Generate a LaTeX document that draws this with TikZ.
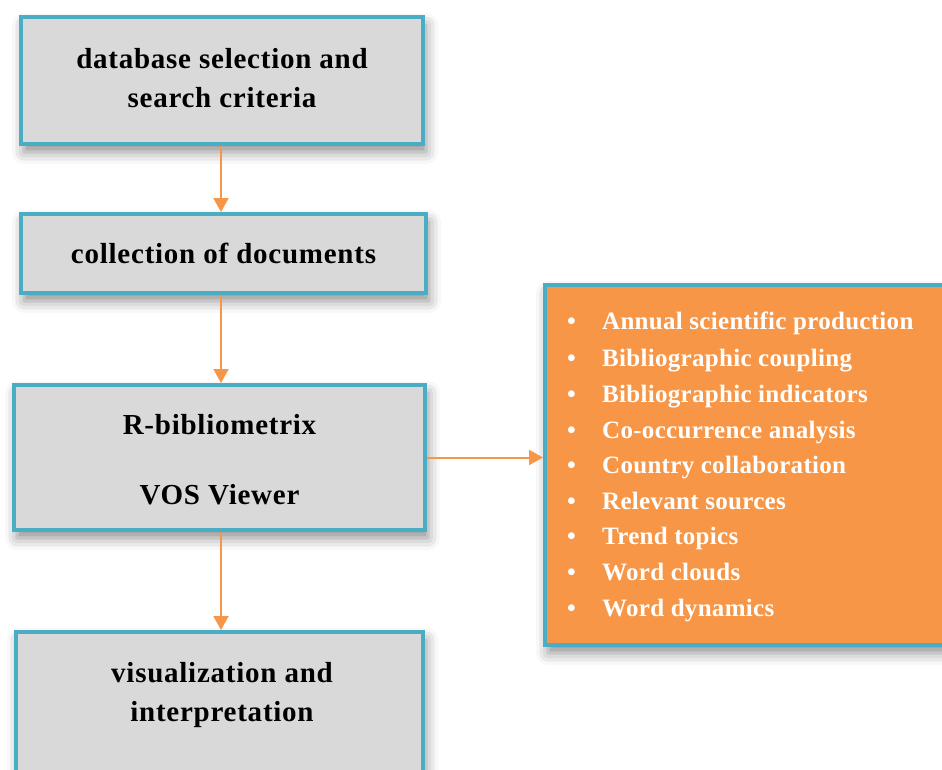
\documentclass[tikz,border=0pt]{standalone}
\usepackage{fontspec}
\setmainfont{Liberation Serif}
\newfontfamily\boxfont[LetterSpace=2.6]{Liberation Serif}
\newfontfamily\listfont[LetterSpace=1.2]{Liberation Serif}
\usetikzlibrary{arrows.meta,shadows.blur}
\definecolor{boxblue}{HTML}{4BACC6}
\definecolor{boxgray}{HTML}{D9D9D9}
\definecolor{accorange}{HTML}{F79646}
\begin{document}
\begin{tikzpicture}[x=1pt,y=-1pt,
  boxshadow/.style={blur shadow={shadow xshift=3pt, shadow yshift=-8pt, shadow blur radius=12pt, shadow opacity=45}},
  flowbox/.style={draw=boxblue, line width=4pt, fill=boxgray, rectangle, inner sep=0pt,
    font=\boxfont\bfseries\fontsize{29}{39}\selectfont, align=center, boxshadow},
  flowtext/.style={inner sep=0pt, font=\boxfont\bfseries\fontsize{29}{39}\selectfont, align=center},
  listbox/.style={draw=boxblue, line width=4pt, fill=accorange, rectangle, inner sep=0pt, boxshadow},
  listtext/.style={inner sep=0pt, text=white, font=\listfont\bfseries\fontsize{25}{35.6}\selectfont, align=left},
  flowarrow/.style={draw=accorange, line width=2pt, -{Triangle[width=15pt,length=14pt]}}]
\useasboundingbox (0,0) rectangle (942,769);
\clip (0,0) rectangle (942,769);
\node[flowbox, minimum width=402pt, minimum height=127pt] (b1) at (222,80.5) {};
\node[flowtext] (t1) at (222,78) {database selection and\\search criteria};
\node[flowbox, minimum width=405pt, minimum height=79pt] (b2) at (223.5,253.5) {collection of documents};
\node[flowbox, minimum width=411pt, minimum height=145pt] (b3) at (219.5,457.5) {};
\node[flowtext] (t3) at (219.5,459.5) {R-bibliometrix\\[31pt]VOS Viewer};
\node[flowbox, minimum width=407pt, minimum height=176pt] (b4) at (219.5,720) {};
\node[flowtext] (t4) at (222,695) {visualization and\\interpretation};
\node[listbox, minimum width=443pt, minimum height=360pt] (ob) at (766.5,465) {};
\node[listtext, anchor=west] (lst) at (567,466.5) {%
\makebox[35pt][l]{\textbullet}Annual scientific production\\[2pt]
\makebox[35pt][l]{\textbullet}Bibliographic coupling\\
\makebox[35pt][l]{\textbullet}Bibliographic indicators\\
\makebox[35pt][l]{\textbullet}Co-occurrence analysis\\
\makebox[35pt][l]{\textbullet}Country collaboration\\
\makebox[35pt][l]{\textbullet}Relevant sources\\
\makebox[35pt][l]{\textbullet}Trend topics\\
\makebox[35pt][l]{\textbullet}Word clouds\\
\makebox[35pt][l]{\textbullet}Word dynamics};
\draw[flowarrow] (b1.south -| 221,0) -- (b2.north -| 221,0);
\draw[flowarrow] (b2.south -| 221,0) -- (b3.north -| 221,0);
\draw[flowarrow] (b3.south -| 221,0) -- (b4.north -| 221,0);
\draw[flowarrow] (b3.east) -- (b3.east -| ob.west);
\end{tikzpicture}
\end{document}
